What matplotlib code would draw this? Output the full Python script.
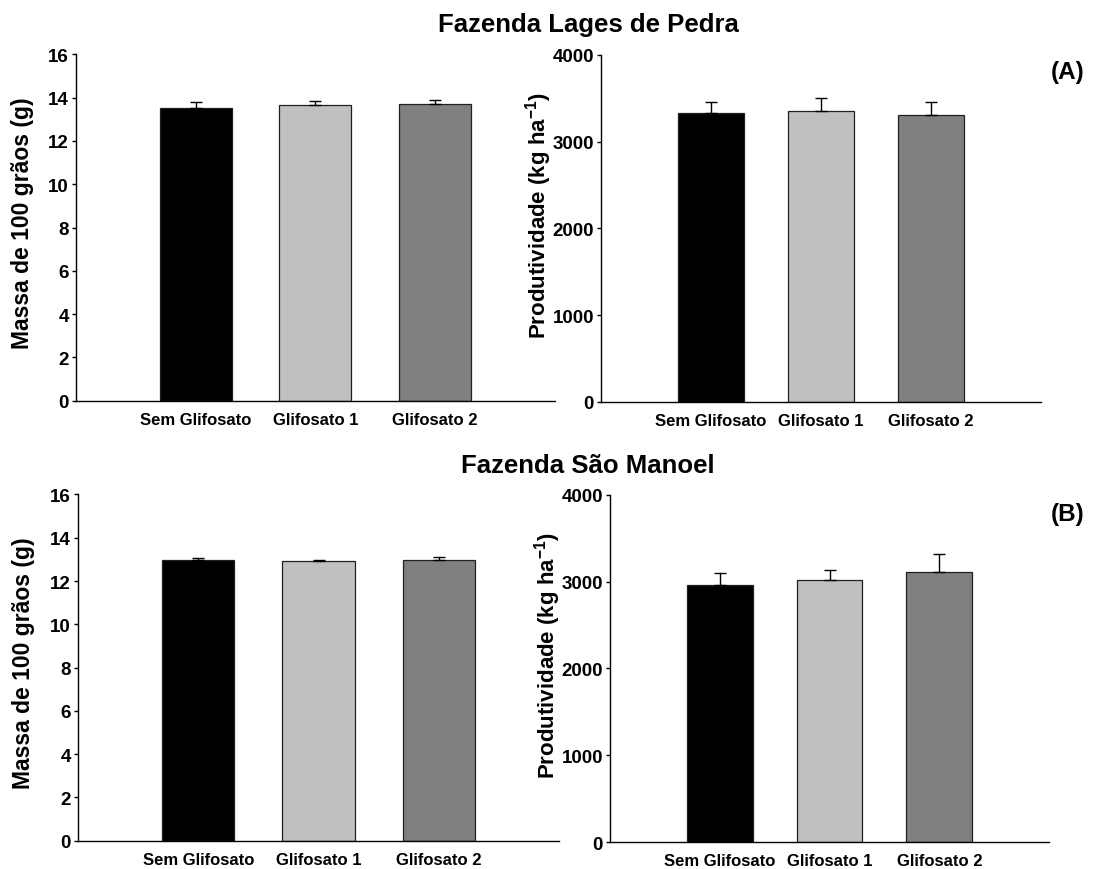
import matplotlib
matplotlib.use('Agg')
import matplotlib.pyplot as plt
import numpy as np

plt.rcParams['font.family'] = ['Liberation Sans', 'DejaVu Sans']
plt.rcParams['font.weight'] = 'bold'
plt.rcParams['mathtext.fontset'] = 'custom'
plt.rcParams['mathtext.rm'] = 'Liberation Sans:bold'
plt.rcParams['mathtext.bf'] = 'Liberation Sans:bold'
plt.rcParams['mathtext.default'] = 'bf'

categorias = ['Sem Glifosato', 'Glifosato 1', 'Glifosato 2']
cores = ['#000000', '#C0C0C0', '#808080']

# Fazenda Lages de Pedra
massa_lp = [13.51, 13.66, 13.71]
massa_lp_err = [0.30, 0.20, 0.18]
prod_lp = [3330, 3358, 3304]
prod_lp_err = [123, 142, 158]

# Fazenda Sao Manoel
massa_sm = [12.97, 12.93, 12.95]
massa_sm_err = [0.10, 0.03, 0.18]
prod_sm = [2965, 3019, 3112]
prod_sm_err = [131, 119, 207]

lbl_massa = 'Massa de 100 grãos (g)'
lbl_prod = r'Produtividade (kg ha$^{-1}$)'

fig = plt.figure(figsize=(10.93, 8.70), dpi=100)

ax1 = fig.add_axes([0.0695, 0.5383, 0.438, 0.398])
ax2 = fig.add_axes([0.5499, 0.5368, 0.4026, 0.3989])
ax3 = fig.add_axes([0.0714, 0.0325, 0.440, 0.398])
ax4 = fig.add_axes([0.5581, 0.0310, 0.4017, 0.399])


def barras(ax, vals, errs, ymax, step, ylabel, xlab, ylab, fs):
    x = np.arange(len(categorias))
    ax.bar(x, vals, width=0.6, color=cores, edgecolor='#202020', linewidth=0.9, zorder=2)
    ax.errorbar(x, vals, yerr=[np.zeros(len(errs)), errs], fmt='none', ecolor='black',
                elinewidth=1.0, capsize=4, capthick=1.0, zorder=3)
    ax.set_xlim(-1, 3)
    ax.set_ylim(0, ymax)
    ax.set_yticks(np.arange(0, ymax + step / 2, step))
    ax.set_xticks(x)
    ax.set_xticklabels(categorias, fontsize=12, fontweight='bold')
    ax.tick_params(axis='x', length=0, pad=8)
    ax.tick_params(axis='y', direction='out', length=3, width=1, labelsize=13.5, pad=2)
    for t in ax.get_yticklabels():
        t.set_fontweight('bold')
    ax.spines['top'].set_visible(False)
    ax.spines['right'].set_visible(False)
    ax.spines['left'].set_linewidth(1)
    ax.spines['bottom'].set_linewidth(1)
    ax.text(xlab, ylab, ylabel, transform=ax.transAxes, rotation=90, ha='center',
            va='center', fontsize=fs, fontweight='bold')


barras(ax1, massa_lp, massa_lp_err, 16, 2, lbl_massa, -0.1127, 0.515, 16.5)
barras(ax2, prod_lp, prod_lp_err, 4000, 1000, lbl_prod, -0.141, 0.54, 16)
barras(ax3, massa_sm, massa_sm_err, 16, 2, lbl_massa, -0.114, 0.515, 16.5)
barras(ax4, prod_sm, prod_sm_err, 4000, 1000, lbl_prod, -0.143, 0.54, 16)

fig.text(0.538, 0.971, 'Fazenda Lages de Pedra', ha='center', va='center', fontsize=18.5, fontweight='bold')
fig.text(0.538, 0.464, 'Fazenda São Manoel', ha='center', va='center', fontsize=18.5, fontweight='bold')
fig.text(0.977, 0.917, '(A)', ha='center', va='center', fontsize=17.5, fontweight='bold')
fig.text(0.977, 0.409, '(B)', ha='center', va='center', fontsize=17.5, fontweight='bold')

fig.savefig('out.png', dpi=100)
